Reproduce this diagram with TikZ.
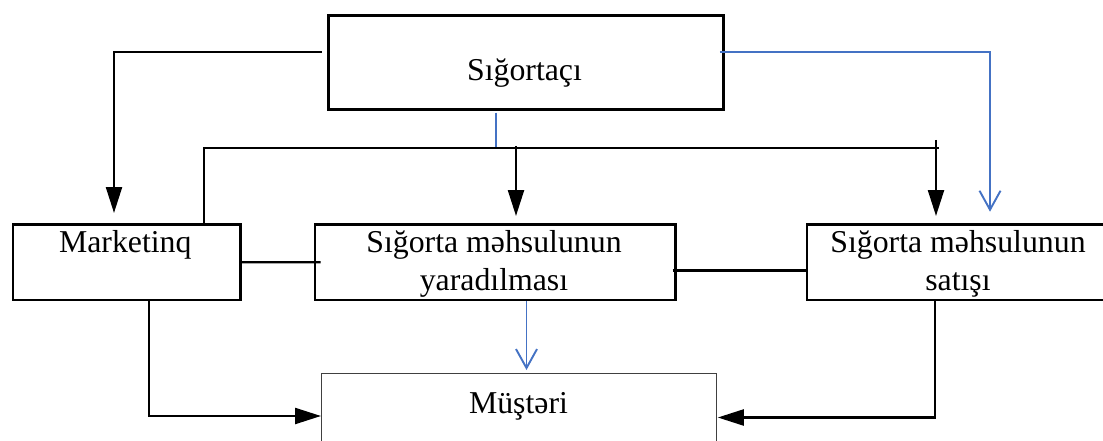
\documentclass[tikz,border=0pt]{standalone}
\usepackage{fontspec}
\setmainfont{Liberation Serif}
\usetikzlibrary{arrows.meta,calc}
\definecolor{obl}{RGB}{68,114,196}
\begin{document}
\begin{tikzpicture}[x=1pt,y=-1pt,
  box/.style={draw=black,line width=2.6pt,rectangle,inner sep=0pt,anchor=north west},
  thinbox/.style={draw=black!75,line width=1.1pt,rectangle,inner sep=0pt,anchor=north west},
  txt/.style={inner sep=0pt,anchor=base,align=center,font=\fontsize{31.8}{37.3}\selectfont},
  conn/.style={draw=black,line width=2.3pt},
  bconn/.style={draw=obl,line width=1.9pt},
  tri/.style={-{Triangle[length=26pt,width=16pt]}},
  barb/.style={-{Straight Barb[length=19pt,width=21pt,line width=1.9pt]}}]
\useasboundingbox (0,0) rectangle (1103,441);
\clip (0,0) rectangle (1103,441);
\fill[white] (0,0) rectangle (1103,441);
% boxes
\node[box,minimum width=395pt,minimum height=94pt] (S) at (327,14) {};
\node[box,minimum width=227.3pt,minimum height=75.4pt] (M) at (11.7,223.3) {};
\node[box,minimum width=360.8pt,minimum height=75.7pt] (Y) at (313.5,223) {};
\node[box,minimum width=304.3pt,minimum height=75.7pt] (T) at (805.7,223) {};
\node[thinbox,minimum width=395pt,minimum height=100pt] (C) at (321,373.3) {};
% texts
\node[txt] (St) at (524.5,80.5) {Sığortaçı};
\node[txt] (Mt) at (125.3,252.7) {Marketinq};
\node[txt] (Yt) at (494,290) {Sığorta məhsulunun\\yaradılması};
\node[txt] (Tt) at (958,290) {Sığorta məhsulunun\\satışı};
\node[txt] (Ct) at (518.5,413.5) {Müştəri};
% connectors
\coordinate (bus) at (204,148);
\coordinate (busend) at (938.5,148);
\draw[conn,tri] ($(S.north west)+(-5.3,38.3)$) -| ($(M.north west)+(102.3,-10.3)$);
\draw[bconn,barb] ($(S.north east)+(-4.7,38.3)$) -| ($(T.north west)+(184.3,-11.3)$);
\draw[bconn] ($(S.south west)+(169,2)$) -- ($(S.south west)+(169,37.7)$);
\draw[conn] (bus |- M.north) -- (bus) -- (busend);
\draw[conn,tri] ($(Y.north west)+(202.5,-77)$) -- ($(Y.north west)+(202.5,-7)$);
\draw[conn,tri] ($(T.north west)+(130.3,-83)$) -- ($(T.north west)+(130.3,-7)$);
\draw[conn] (M.east) -- ($(Y.west)+(7.2,0)$);
\draw[conn] ($(Y.east)+(-4.3,8.2)$) -- ($(T.west)+(0,8.2)$);
\draw[conn,tri] ($(M.south west)+(137.3,0)$) |- ($(C.north west)+(0,42.7)$);
\draw[bconn,barb] ($(Y.south west)+(213,0)$) -- ($(C.north west)+(205.5,-3.3)$);
\draw[conn,tri] ($(T.south west)+(129.3,0)$) |- ($(C.north east)+(0.7,44.2)$);
\end{tikzpicture}
\end{document}
